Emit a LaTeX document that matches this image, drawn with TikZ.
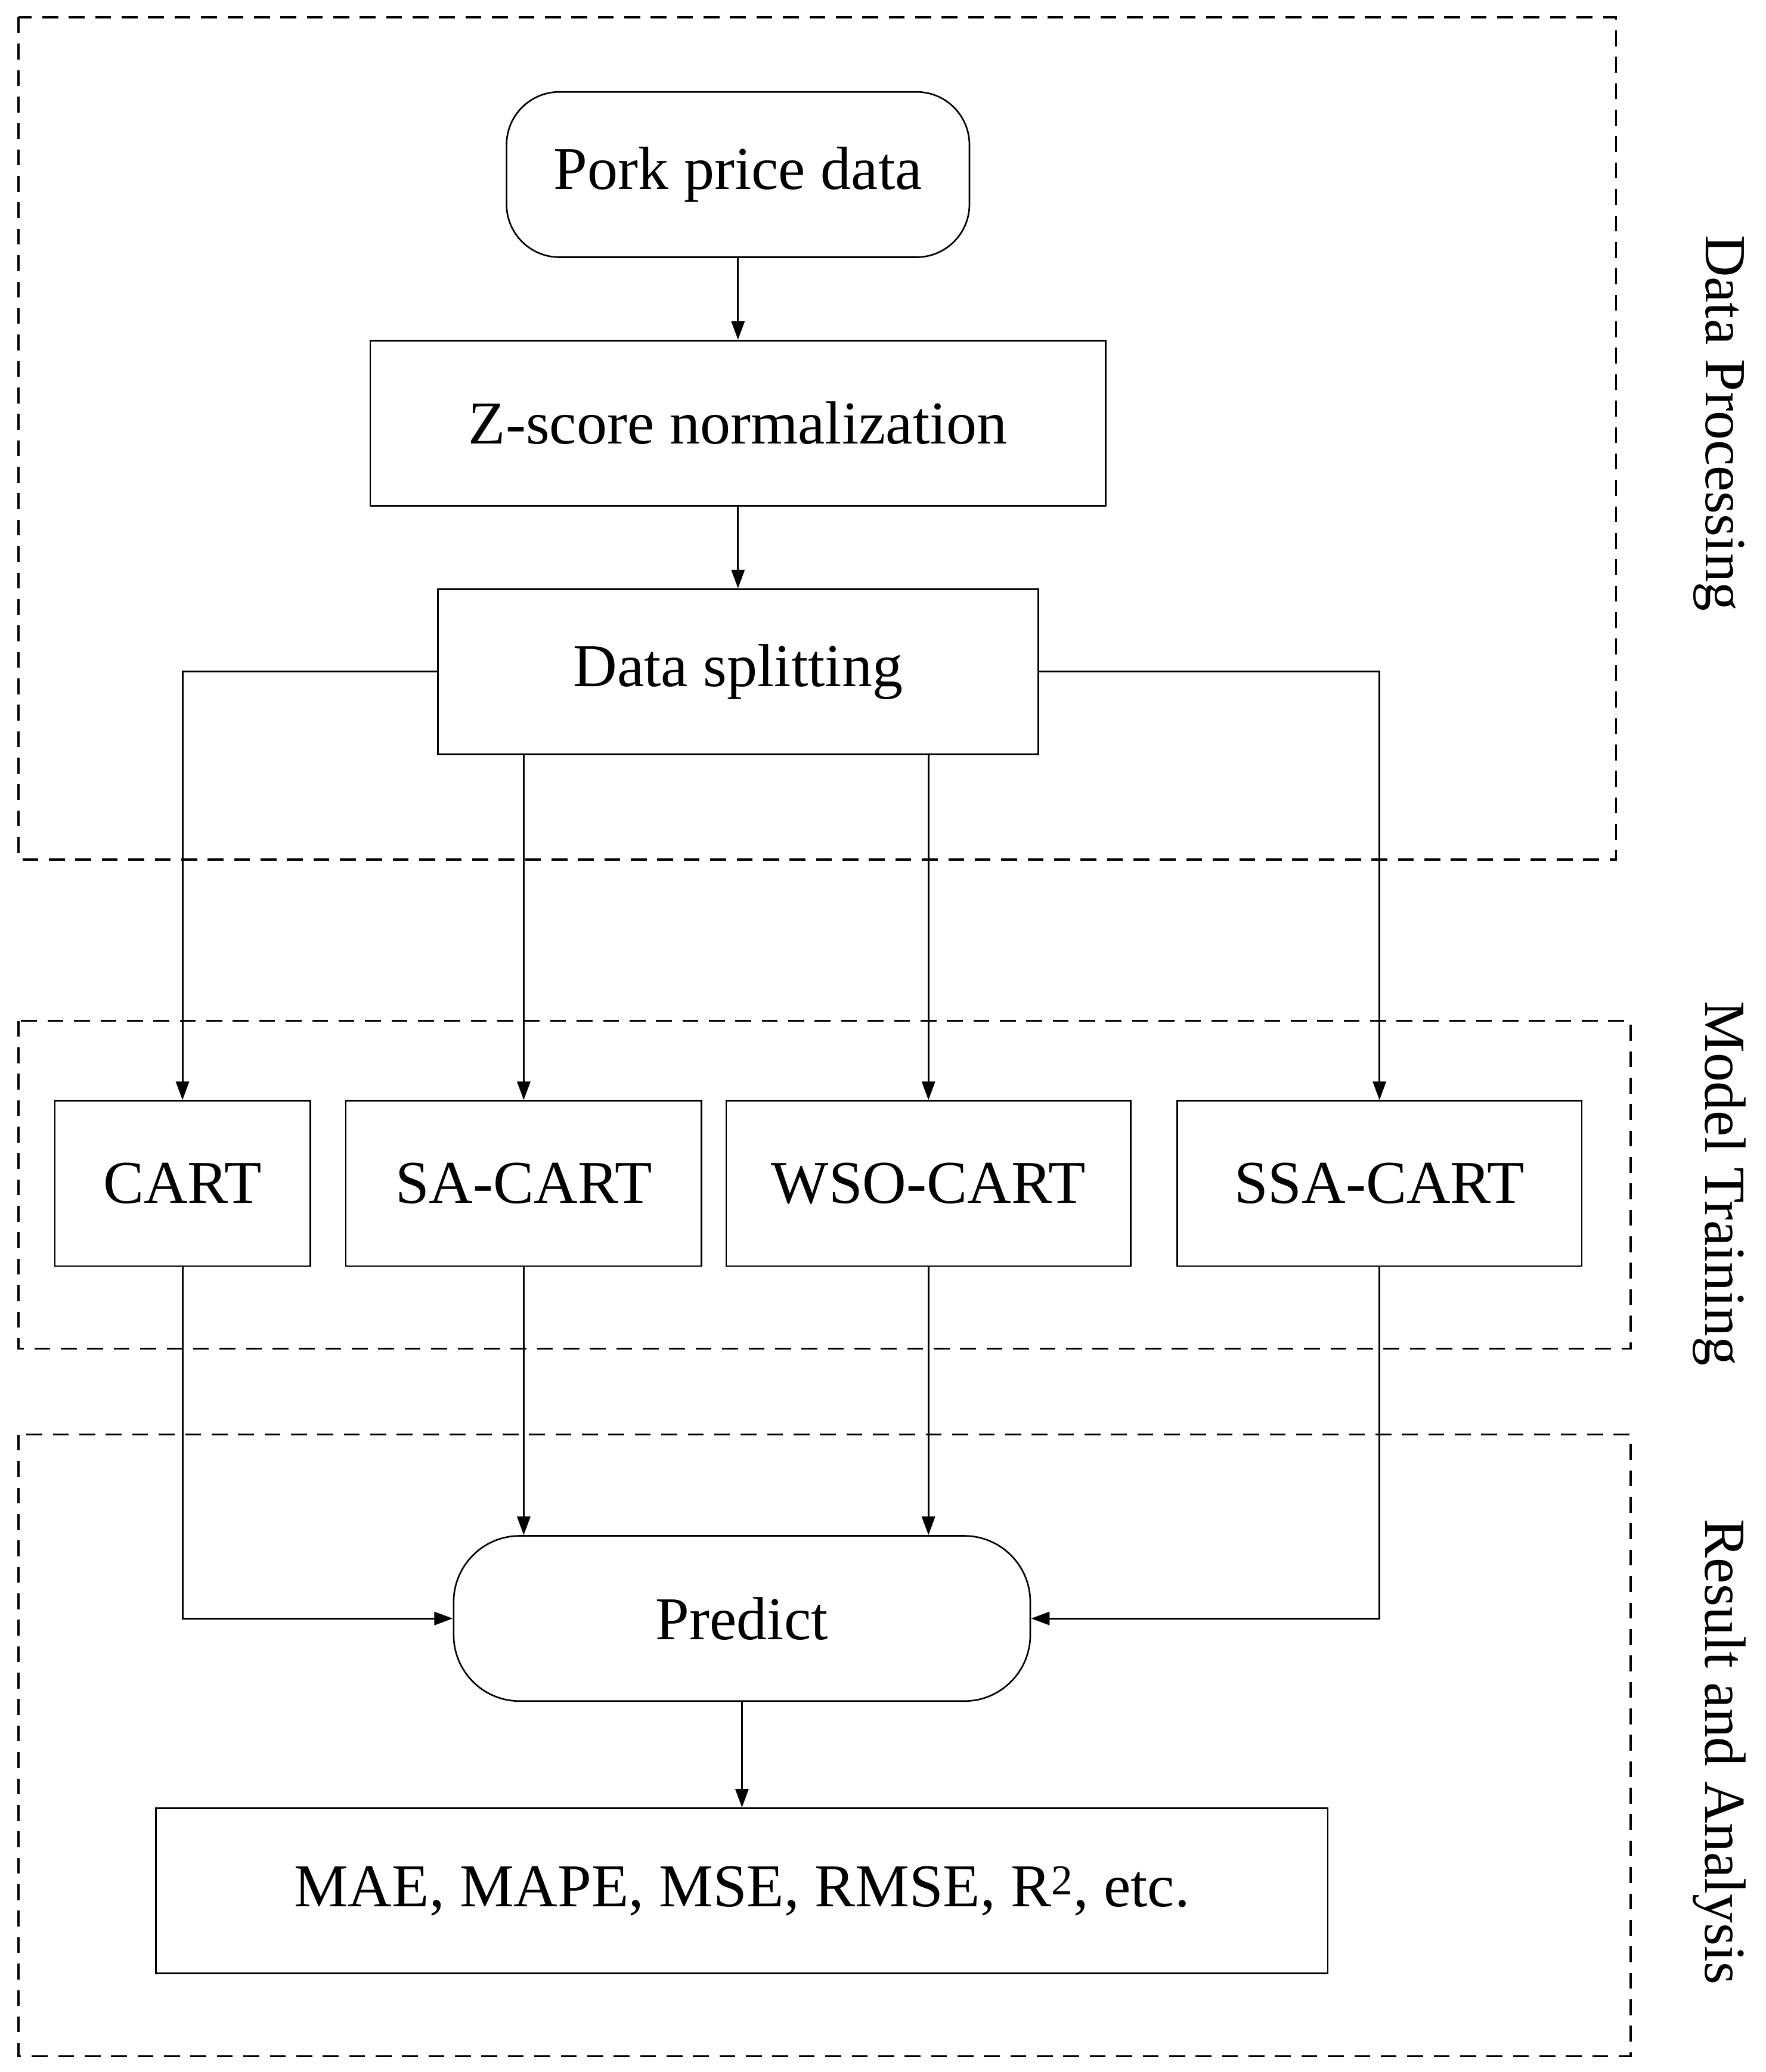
\documentclass[tikz,border=0pt]{standalone}
\usepackage{fontspec}
\setmainfont{Liberation Serif}
\usetikzlibrary{arrows.meta}
\begin{document}
\begin{tikzpicture}[x=1pt,y=-1pt,
  box/.style={draw,line width=1.2pt,inner sep=0pt,font=\fontsize{46}{50}\selectfont},
  rbox/.style={box,rounded corners=40pt},
  grp/.style={draw,dashed,line width=1.5pt,dash pattern=on 12pt off 8pt},
  arr/.style={-{Triangle[length=14pt,width=10pt]},line width=1.3pt},
  side/.style={rotate=-90,font=\fontsize{44}{48}\selectfont}]
\useasboundingbox (0,0) rectangle (1335,1567);
\draw[grp] (14,13) rectangle (1222,650);
\draw[grp] (14,772) rectangle (1233,1020);
\draw[grp] (14,1085) rectangle (1233,1555);
\node[side] (l1) at (1300,320) {Data Processing};
\node[side] (l2) at (1300,895) {Model Training};
\node[side] (l3) at (1300,1325) {Result and Analysis};
\node[rbox,minimum width=350pt,minimum height=125pt] (pork) at (558,132) {Pork price data};
\node[box,minimum width=556pt,minimum height=125pt] (z) at (558,320) {Z-score normalization};
\node[box,minimum width=454pt,minimum height=125pt] (ds) at (558,508) {Data splitting};
\node[box,minimum width=193pt,minimum height=125pt] (c1) at (138,895) {CART};
\node[box,minimum width=269pt,minimum height=125pt] (c2) at (396,895) {SA-CART};
\node[box,minimum width=306pt,minimum height=125pt] (c3) at (702,895) {WSO-CART};
\node[box,minimum width=306pt,minimum height=125pt] (c4) at (1043,895) {SSA-CART};
\node[rbox,minimum width=436pt,minimum height=125pt,rounded corners=50pt] (pr) at (561,1224) {Predict};
\node[box,minimum width=886pt,minimum height=125pt] (m) at (561,1430) {MAE, MAPE, MSE, RMSE, R\textsuperscript{2}, etc.};
\draw[arr] (pork) -- (z);
\draw[arr] (z) -- (ds);
\draw[arr] (ds.west) -| (c1.north);
\draw[arr] (ds.south -| c2) -- (c2.north);
\draw[arr] (ds.south -| c3) -- (c3.north);
\draw[arr] (ds.east) -| (c4.north);
\draw[arr] (c1.south) |- (pr.west);
\draw[arr] (c2.south) -- (c2.south |- pr.north);
\draw[arr] (c3.south) -- (c3.south |- pr.north);
\draw[arr] (c4.south) |- (pr.east);
\draw[arr] (pr) -- (m);
\end{tikzpicture}
\end{document}
